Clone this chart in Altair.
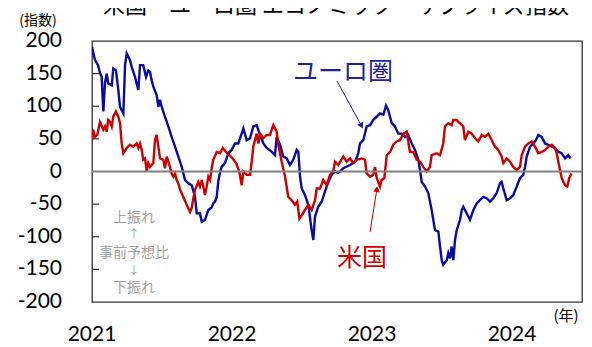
import altair as alt
import pandas as pd

# ---- data (decimal year, index value) ----
euro_t = [2021.000, 2021.021, 2021.043, 2021.057, 2021.069, 2021.081, 2021.093, 2021.105, 2021.116, 2021.141,
          2021.152, 2021.171, 2021.188, 2021.200, 2021.224, 2021.236, 2021.248, 2021.271, 2021.284, 2021.307,
          2021.319, 2021.331, 2021.343, 2021.366, 2021.386, 2021.402, 2021.414, 2021.426, 2021.438, 2021.462,
          2021.474, 2021.486, 2021.498, 2021.521, 2021.545, 2021.569, 2021.593, 2021.616, 2021.641, 2021.664,
          2021.688, 2021.712, 2021.736, 2021.748, 2021.771, 2021.784, 2021.807, 2021.831, 2021.855, 2021.866,
          2021.879, 2021.891, 2021.902, 2021.914, 2021.926, 2021.950, 2021.974, 2021.998, 2022.021, 2022.045,
          2022.069, 2022.081, 2022.105, 2022.129, 2022.152, 2022.176, 2022.200, 2022.224, 2022.248, 2022.284,
          2022.307, 2022.319, 2022.343, 2022.366, 2022.391, 2022.414, 2022.438, 2022.462, 2022.474, 2022.486,
          2022.498, 2022.521, 2022.545, 2022.569, 2022.581, 2022.593, 2022.616, 2022.641, 2022.664, 2022.688,
          2022.712, 2022.736, 2022.759, 2022.795, 2022.843, 2022.879, 2022.902, 2022.914, 2022.938, 2022.962,
          2022.986, 2023.009, 2023.034, 2023.057, 2023.081, 2023.100, 2023.116, 2023.141, 2023.164, 2023.188,
          2023.212, 2023.236, 2023.259, 2023.284, 2023.307, 2023.331, 2023.343, 2023.355, 2023.379, 2023.402,
          2023.426, 2023.450, 2023.474, 2023.486, 2023.498, 2023.509, 2023.534, 2023.545, 2023.557, 2023.569,
          2023.581, 2023.593, 2023.605, 2023.629, 2023.641, 2023.652, 2023.676, 2023.700, 2023.724, 2023.748,
          2023.771, 2023.795, 2023.819, 2023.843, 2023.866, 2023.891, 2023.914, 2023.926, 2023.938, 2023.962,
          2023.986, 2024.009, 2024.034, 2024.057, 2024.081, 2024.093, 2024.105, 2024.129, 2024.152, 2024.171,
          2024.188, 2024.212, 2024.236, 2024.259, 2024.284, 2024.307, 2024.331, 2024.355, 2024.379, 2024.402,
          2024.419]
euro_v = [191, 171, 163, 151, 145, 92, 136, 150, 135, 132,
          158, 155, 125, 99, 89, 163, 181, 171, 160, 145,
          135, 125, 163, 163, 145, 155, 153, 140, 130, 117,
          99, 110, 99, 84, 69, 53, 38, 23, 7, -13,
          -18, -21, -39, -64, -64, -77, -74, -59, -55, -49,
          -46, -39, -15, -2, 7, 13, 28, 33, 43, 43,
          58, 66, 48, 51, 69, 71, 56, 43, 36, 30,
          25, 53, 41, 23, 20, 10, 18, 33, 30, -8,
          -26, -36, -51, -90, -105, -69, -54, -46, -31, -16,
          -5, 0, -2, 5, 10, 15, 28, 43, 48, 69,
          71, 79, 84, 89, 87, 101, 94, 74, 69, 58,
          58, 53, 56, 43, 33, 18, 2, -16, -23, -33,
          -59, -90, -92, -115, -136, -143, -136, -125, -133, -115,
          -136, -105, -90, -74, -59, -54, -64, -74, -59, -49,
          -44, -39, -41, -46, -41, -33, -18, -16, -26, -44,
          -41, -36, -23, -10, -5, 7, 23, 38, 43, 48,
          56, 53, 43, 41, 38, 36, 30, 28, 20, 25,
          20]

us_t = [2021.000, 2021.009, 2021.021, 2021.038, 2021.057, 2021.081, 2021.093, 2021.105, 2021.116, 2021.129,
        2021.141, 2021.152, 2021.171, 2021.188, 2021.200, 2021.212, 2021.224, 2021.248, 2021.271, 2021.295,
        2021.319, 2021.331, 2021.343, 2021.355, 2021.366, 2021.379, 2021.391, 2021.402, 2021.414, 2021.438,
        2021.450, 2021.462, 2021.474, 2021.486, 2021.509, 2021.521, 2021.534, 2021.557, 2021.569, 2021.581,
        2021.593, 2021.605, 2021.616, 2021.629, 2021.652, 2021.676, 2021.700, 2021.712, 2021.724, 2021.736,
        2021.759, 2021.771, 2021.784, 2021.795, 2021.807, 2021.819, 2021.831, 2021.843, 2021.855, 2021.866,
        2021.891, 2021.914, 2021.934, 2021.957, 2021.981, 2022.005, 2022.029, 2022.052, 2022.069, 2022.081,
        2022.105, 2022.129, 2022.141, 2022.152, 2022.176, 2022.188, 2022.200, 2022.224, 2022.248, 2022.271,
        2022.295, 2022.319, 2022.331, 2022.355, 2022.379, 2022.402, 2022.426, 2022.450, 2022.466, 2022.481,
        2022.498, 2022.521, 2022.545, 2022.569, 2022.593, 2022.605, 2022.629, 2022.652, 2022.676, 2022.700,
        2022.724, 2022.736, 2022.759, 2022.795, 2022.819, 2022.843, 2022.866, 2022.891, 2022.926, 2022.950,
        2022.962, 2022.986, 2023.009, 2023.021, 2023.034, 2023.057, 2023.069, 2023.088, 2023.105, 2023.129,
        2023.152, 2023.176, 2023.200, 2023.224, 2023.248, 2023.271, 2023.295, 2023.319, 2023.343, 2023.366,
        2023.391, 2023.414, 2023.426, 2023.462, 2023.486, 2023.509, 2023.521, 2023.545, 2023.569, 2023.581,
        2023.605, 2023.616, 2023.629, 2023.652, 2023.664, 2023.688, 2023.712, 2023.736, 2023.759, 2023.784,
        2023.807, 2023.831, 2023.855, 2023.879, 2023.902, 2023.926, 2023.938, 2023.962, 2023.986, 2024.009,
        2024.034, 2024.057, 2024.069, 2024.093, 2024.116, 2024.141, 2024.164, 2024.188, 2024.212, 2024.236,
        2024.259, 2024.284, 2024.307, 2024.319, 2024.343, 2024.355, 2024.379, 2024.395, 2024.409, 2024.426]
us_v = [48, 64, 53, 56, 76, 64, 69, 61, 79, 76,
        69, 84, 92, 84, 74, 43, 28, 36, 41, 38,
        43, 36, 43, 33, 18, 20, 0, 13, 7, 13,
        48, 56, 38, 20, 18, 5, 23, 7, -3, -8,
        -3, -13, -18, -28, -39, -51, -62, -56, -41, -28,
        -16, -23, -13, -23, -36, -23, -8, -13, 5, 18,
        30, 28, 36, 30, 25, 20, 13, 0, -21, 0,
        -5, -5, 15, 38, 58, 43, 58, 51, 56, 56,
        71, 61, 41, 15, -8, -39, -44, -51, -46, -72,
        -67, -59, -51, -59, -44, -26, -26, -13, -21, -5,
        2, 15, 10, 23, 15, 20, 13, 18, 20, 18,
        -3, -8, -5, 7, -10, -23, -13, -10, 25, 30,
        41, 46, 48, 58, 61, 30, 30, 18, 15, 7,
        0, 7, 25, 28, 25, 43, 69, 74, 71, 79,
        79, 76, 74, 69, 48, 61, 58, 51, 46, 56,
        53, 58, 48, 38, 33, 23, 13, 20, 15, 7,
        2, 7, 25, 38, 43, 46, 38, 28, 30, 33,
        38, 41, 36, 28, 2, -10, -21, -23, -10, -3]

y_labels = [-200, -150, -100, -50, 0, 50, 100, 150, 200]
y_ticks = [-150, -100, -50, 50, 100, 150]
x_ticks = [2021, 2022, 2023, 2024]

series_names = ["ユーロ圏", "米国"]
series_colors = ["#0A0AA5", "#CC0000"]

df = pd.concat([
    pd.DataFrame({"t": euro_t, "v": euro_v, "s": "ユーロ圏"}),
    pd.DataFrame({"t": us_t, "v": us_v, "s": "米国"}),
], ignore_index=True)

xs = alt.Scale(domain=[2021, 2024.5], nice=False, zero=False)
ys = alt.Scale(domain=[-200, 200], nice=False)

JP = "Noto Sans CJK JP"
NUM = "Lato"

lines = alt.Chart(df).mark_line(strokeWidth=2.4, clip=True).encode(
    x=alt.X("t:Q", scale=xs, axis=None),
    y=alt.Y("v:Q", scale=ys, axis=None),
    color=alt.Color("s:N", scale=alt.Scale(domain=series_names, range=series_colors), legend=None),
    detail="s:N",
)

zero = alt.Chart(pd.DataFrame({"v": [0]})).mark_rule(color="#808080", strokeWidth=2).encode(
    y=alt.Y("v:Q", scale=ys, axis=None))

ticks = alt.Chart(pd.DataFrame({"v": y_ticks})).mark_rule(color="#333", strokeWidth=1.2).encode(
    y=alt.Y("v:Q", scale=ys, axis=None), x=alt.value(0), x2=alt.value(7))

# axis labels as text through the scales
ylab = alt.Chart(pd.DataFrame({"v": y_labels, "k": [str(v) for v in y_labels]})).mark_text(
    font=NUM, fontSize=21, align="right", baseline="middle", color="#000").encode(
    y=alt.Y("v:Q", scale=ys, axis=None), x=alt.value(-30), text="k:N")
xlab = alt.Chart(pd.DataFrame({"t": x_ticks, "k": [str(v) for v in x_ticks]})).mark_text(
    font=NUM, fontSize=21, align="center", baseline="middle", color="#000").encode(
    x=alt.X("t:Q", scale=xs, axis=None), y=alt.value(294), text="k:N")

# arrows (annotation, in data coordinates)
arrows = pd.DataFrame({
    "t": [2022.75, 2022.986], "v": [138.7, -92.7],
    "t2": [2022.925, 2023.035], "v2": [70.0, -27.0],
    "c": ["#1F1FA0", "#CC0000"], "ang": [151.5, 9.0],
})
arrow_lines = alt.Chart(arrows).mark_rule(strokeWidth=1).encode(
    x=alt.X("t:Q", scale=xs, axis=None), y=alt.Y("v:Q", scale=ys, axis=None),
    x2="t2:Q", y2="v2:Q", color=alt.Color("c:N", scale=None))
arrow_heads = alt.Chart(arrows).mark_point(shape="triangle-up", filled=True, size=45, opacity=1).encode(
    x=alt.X("t2:Q", scale=xs, axis=None), y=alt.Y("v2:Q", scale=ys, axis=None),
    color=alt.Color("c:N", scale=None), angle=alt.Angle("ang:Q", scale=None))

def txt(text, x, y, size, color="#000", font=JP, align="center", baseline="middle"):
    return alt.Chart(pd.DataFrame({"k": [text]})).mark_text(
        fontSize=size, font=font, color=color, align=align, baseline=baseline).encode(
        text="k:N", x=alt.value(x), y=alt.value(y))

labels = [
    txt("米国・ユーロ圏 エコノミック・サプライズ指数", 244, -28, 22, baseline="alphabetic"),
    txt("(指数)", -54, -20, 14),
    txt("(年)", 474, 275, 15),
    txt("ユーロ圏", 251, 31, 25, color="#1F1FA0"),
    txt("米国", 270, 217, 25, color="#CC0000"),
    txt("上振れ", 42, 177, 14, color="#A0A0A0"),
    txt("↑", 42, 194, 11, color="#A0A0A0"),
    txt("事前予想比", 42, 212, 14, color="#A0A0A0"),
    txt("↓", 42, 230, 11, color="#A0A0A0"),
    txt("下振れ", 42, 247, 14, color="#A0A0A0"),
]

chart = alt.layer(lines, zero, ticks, ylab, xlab, arrow_lines, arrow_heads, *labels).properties(
    width=490, height=261,
    padding={"left": 84, "top": 33, "right": 2, "bottom": 45},
    autosize=alt.AutoSizeParams(type="none"),
).configure_view(stroke="#333", strokeWidth=1.3)

chart.save("out.html", embed_options={"renderer": "svg", "actions": False})
